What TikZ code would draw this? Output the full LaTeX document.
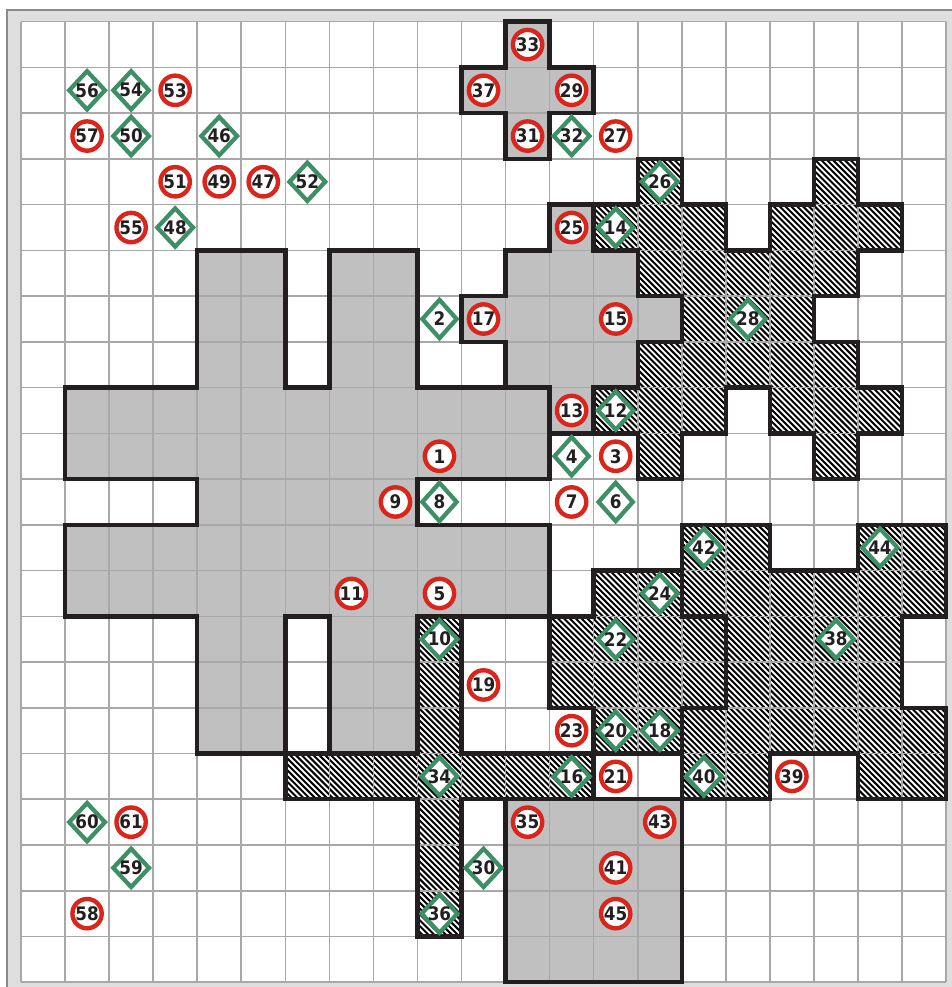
\documentclass[tikz,border=0pt]{standalone}
\usepackage{fontspec}
\newfontfamily\mkfont{DejaVu Sans}[FakeStretch=0.9]
\usetikzlibrary{shapes.geometric}
\definecolor{gridc}{HTML}{A8A8A8}
\definecolor{fillc}{HTML}{C0C0C0}
\definecolor{edgec}{HTML}{231F20}
\definecolor{redc}{HTML}{D9251C}
\definecolor{grnc}{HTML}{3E8E66}
\definecolor{bandc}{HTML}{DEDEDE}
\definecolor{framec}{HTML}{8A8A8A}
\tikzset{
  graybox/.style={fill=fillc},
  hatchline/.style={draw=black, line width=1.5pt},
  outline/.style={draw=edgec, line width=3.3pt, line join=miter},
  gridline/.style={draw=gridc, line width=1.2pt},
  markfont/.style={font=\mkfont\bfseries\fontsize{14pt}{15pt}\selectfont, text=edgec},
  redmark/.style={circle, draw=redc, line width=3.3pt, fill=white, minimum size=22pt, inner sep=0pt, markfont},
  grnmark/.style={diamond, draw=grnc, line width=3.2pt, fill=white, minimum width=27pt, minimum height=30pt, inner sep=0pt, markfont}
}
\newcommand\redpt[3]{\node[redmark] (n#3) at (#1+0.5,#2+0.5) {#3};}
\newcommand\grnpt[3]{\node[grnmark] (n#3) at (#1+0.5,#2+0.5) {#3};}
\begin{document}
\begin{tikzpicture}[x=33.0375pt,y=-34.305pt]
\useasboundingbox (-0.47673,-0.47442) rectangle (21.1124,21.1040);
% frame
\fill[bandc] (-0.3065,-0.2449) rectangle (21.3,21.3);
\draw[framec, line width=1.5pt] (-0.3065,21.3) -- (-0.3065,-0.2449) -- (21.3,-0.2449);
\fill[white] (0,0) rectangle (21,21);
% shapes
\def\GA{(4,5)--(6,5)--(6,8)--(7,8)--(7,5)--(9,5)--(9,8)--(12,8)--(12,10)--(9,10)--(9,11)--(12,11)--(12,13)--(9,13)--(9,16)--(7,16)--(7,13)--(6,13)--(6,16)--(4,16)--(4,13)--(1,13)--(1,11)--(4,11)--(4,10)--(1,10)--(1,8)--(4,8)--cycle}
\def\GB{(12,4)--(13,4)--(13,5)--(14,5)--(14,6)--(15,6)--(15,7)--(14,7)--(14,8)--(13,8)--(13,9)--(12,9)--(12,8)--(11,8)--(11,7)--(10,7)--(10,6)--(11,6)--(11,5)--(12,5)--cycle}
\def\GC{(11,17)--(15,17)--(15,21)--(11,21)--cycle}
\def\GD{(11,0)--(12,0)--(12,1)--(13,1)--(13,2)--(12,2)--(12,3)--(11,3)--(11,2)--(10,2)--(10,1)--(11,1)--cycle}
\def\HA{(14,3)--(15,3)--(15,4)--(16,4)--(16,5)--(17,5)--(17,4)--(18,4)--(18,3)--(19,3)--(19,4)--(20,4)--(20,5)--(19,5)--(19,6)--(18,6)--(18,7)--(19,7)--(19,8)--(20,8)--(20,9)--(19,9)--(19,10)--(18,10)--(18,9)--(17,9)--(17,8)--(16,8)--(16,9)--(15,9)--(15,10)--(14,10)--(14,9)--(13,9)--(13,8)--(14,8)--(14,7)--(15,7)--(15,6)--(14,6)--(14,5)--(13,5)--(13,4)--(14,4)--cycle}
\def\HB{(13,12)--(15,12)--(15,13)--(16,13)--(16,15)--(15,15)--(15,16)--(13,16)--(13,15)--(12,15)--(12,13)--(13,13)--cycle}
\def\HC{(15,11)--(17,11)--(17,12)--(19,12)--(19,11)--(21,11)--(21,13)--(20,13)--(20,15)--(21,15)--(21,17)--(19,17)--(19,16)--(17,16)--(17,17)--(15,17)--(15,15)--(16,15)--(16,13)--(15,13)--cycle}
\def\HD{(9,13)--(10,13)--(10,16)--(13,16)--(13,17)--(10,17)--(10,20)--(9,20)--(9,17)--(6,17)--(6,16)--(9,16)--cycle}
\path[graybox] \GA;
\path[graybox] \GB;
\path[graybox] \GC;
\path[graybox] \GD;
% hatching, clipped to the hatched shapes
\begin{scope}
  \clip \HA \HB \HC \HD;
  \foreach \d in {-740,-735.6,...,710} {\draw[hatchline] (\d pt,0pt) -- ++(740pt,-740pt);}
\end{scope}
% grid
\foreach \i in {0,...,21} {
  \draw[gridline] (\i,0) -- (\i,21);
  \draw[gridline] (0,\i) -- (21,\i);
}
% outlines
\foreach \s in {\GA,\GB,\GC,\GD,\HA,\HB,\HC,\HD} {\path[outline] \s;}
% red markers
\redpt{11}{0}{33}\redpt{10}{1}{37}\redpt{12}{1}{29}\redpt{11}{2}{31}\redpt{13}{2}{27}
\redpt{3}{1}{53}\redpt{1}{2}{57}\redpt{3}{3}{51}\redpt{4}{3}{49}\redpt{5}{3}{47}
\redpt{2}{4}{55}\redpt{12}{4}{25}\redpt{10}{6}{17}\redpt{13}{6}{15}\redpt{12}{8}{13}
\redpt{9}{9}{1}\redpt{13}{9}{3}\redpt{8}{10}{9}\redpt{12}{10}{7}\redpt{7}{12}{11}
\redpt{9}{12}{5}\redpt{10}{14}{19}\redpt{12}{15}{23}\redpt{13}{16}{21}\redpt{17}{16}{39}
\redpt{2}{17}{61}\redpt{11}{17}{35}\redpt{14}{17}{43}\redpt{13}{18}{41}\redpt{1}{19}{58}
\redpt{13}{19}{45}
% green markers
\grnpt{1}{1}{56}\grnpt{2}{1}{54}\grnpt{2}{2}{50}\grnpt{4}{2}{46}\grnpt{6}{3}{52}
\grnpt{3}{4}{48}\grnpt{12}{2}{32}\grnpt{14}{3}{26}\grnpt{13}{4}{14}\grnpt{9}{6}{2}
\grnpt{16}{6}{28}\grnpt{13}{8}{12}\grnpt{12}{9}{4}\grnpt{9}{10}{8}\grnpt{13}{10}{6}
\grnpt{15}{11}{42}\grnpt{19}{11}{44}\grnpt{14}{12}{24}\grnpt{9}{13}{10}\grnpt{13}{13}{22}
\grnpt{18}{13}{38}\grnpt{13}{15}{20}\grnpt{14}{15}{18}\grnpt{9}{16}{34}\grnpt{12}{16}{16}
\grnpt{15}{16}{40}\grnpt{1}{17}{60}\grnpt{2}{18}{59}\grnpt{10}{18}{30}\grnpt{9}{19}{36}
\end{tikzpicture}
\end{document}
